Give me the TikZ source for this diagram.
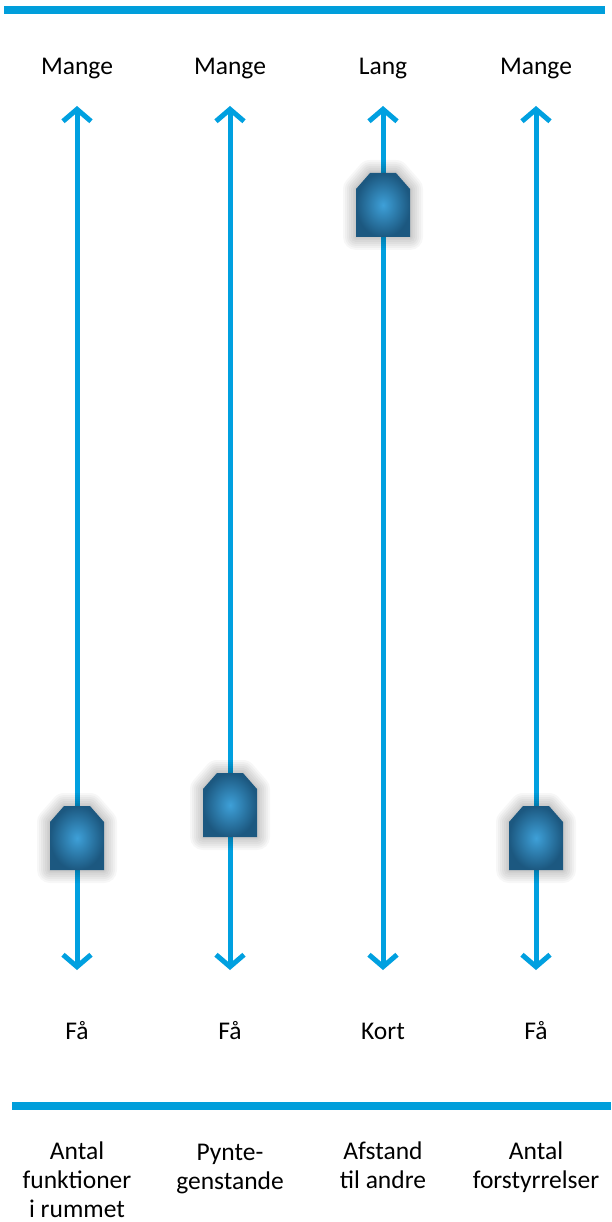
\documentclass[tikz,border=0pt]{standalone}
\usepackage{fontspec}
\setmainfont{Carlito}
\usetikzlibrary{arrows.meta}
\definecolor{barblue}{RGB}{0,158,219}
\definecolor{lineblue}{RGB}{0,160,224}
\definecolor{knobin}{RGB}{62,160,216}
\definecolor{knobout}{RGB}{28,88,128}
\tikzset{
  lbl/.style={font=\fontsize{25.5}{29}\selectfont, text=black, inner sep=0pt, align=center},
  bar/.style={fill=barblue, draw=none},
  axisline/.style={draw=lineblue, line width=5pt, {Straight Barb[length=12pt,width=28pt,line width=5pt]}-{Straight Barb[length=12pt,width=28pt,line width=5pt]}},
  knobshadow/.style={draw=black, draw opacity=0.03, line join=round},
  pics/knob/.style={code={
    \foreach \w in {26,22,18,14,10,6,3}{
      \draw[knobshadow, line width=\w pt]
        (-27,32) -- (27,32) -- (27,-16) -- (13,-32) -- (-13,-32) -- (-27,-16) -- cycle;
    }
    \shade[inner color=knobin, outer color=knobout]
      (-27,32) -- (27,32) -- (27,-16) -- (13,-32) -- (-13,-32) -- (-27,-16) -- cycle;
  }}
}
\begin{document}
\begin{tikzpicture}[x=1pt,y=-1pt]
\useasboundingbox (0,0) rectangle (611,1222);
\fill[white] (0,0) rectangle (611,1222);
\path[bar] (4,6) rectangle (605,14);
\path[bar] (12,1102) rectangle (611,1110);
\foreach \i/\x/\top/\bot/\k in {1/77/Mange/Få/838, 2/230/Mange/Få/805, 3/383/Lang/Kort/205, 4/536/Mange/Få/838}{
  \node[lbl, anchor=base] (top\i) at (\x,74.5) {\top};
  \node[lbl, anchor=base] (bot\i) at (\x,1039) {\bot};
  \coordinate (a\i) at (\x,106);
  \coordinate (b\i) at (\x,970);
  \draw[axisline] (b\i) -- (a\i);
  \pic at (\x,\k) {knob};
}
\node[lbl, anchor=north] (c1) at (77,1142) {Antal\\funktioner\\i rummet};
\node[lbl, anchor=north] (c2) at (230,1143.5) {Pynte-\\genstande};
\node[lbl, anchor=north] (c3) at (383,1142) {Afstand\\til andre};
\node[lbl, anchor=north] (c4) at (536,1142) {Antal\\forstyrrelser};
\end{tikzpicture}
\end{document}
